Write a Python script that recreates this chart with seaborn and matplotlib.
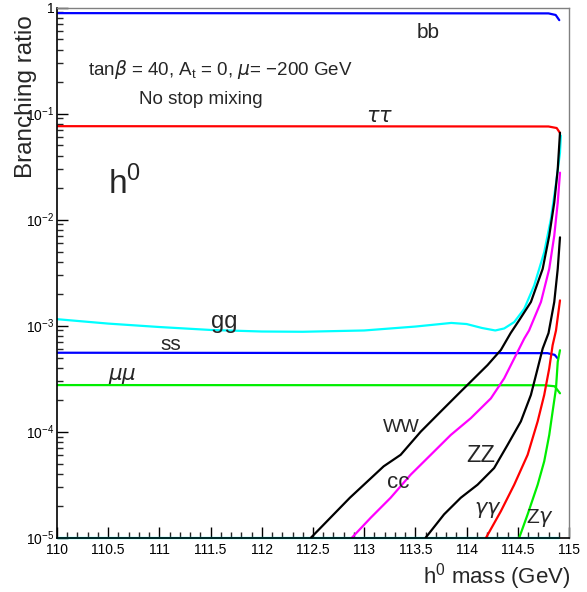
import numpy as np
import pandas as pd
import matplotlib
matplotlib.use("Agg")
import matplotlib.pyplot as plt
import seaborn as sns
from matplotlib.ticker import FixedLocator, MultipleLocator, NullFormatter, LogLocator

# ---------------- data ----------------
m_bb = [110.0, 114.80, 114.87, 114.905]
br_bb = [0.885, 0.88, 0.85, 0.76]

m_tautau = [110.0, 114.80, 114.88, 114.91]
br_tautau = [0.076, 0.0755, 0.073, 0.066]

m_ss = [110.0, 114.79, 114.86, 114.89]
br_ss = [5.55e-4, 5.5e-4, 5.3e-4, 4.9e-4]

m_mumu = [110.0, 114.76, 114.86, 114.912]
br_mumu = [2.75e-4, 2.74e-4, 2.68e-4, 2.3e-4]

m_gg = [110.0, 110.5, 111.0, 111.5, 112.0, 112.4, 113.0, 113.5, 113.85, 114.0,
        114.15, 114.28, 114.367, 114.465, 114.563, 114.66, 114.758, 114.823,
        114.87, 114.912, 114.92]
br_gg = [1.15e-3, 1.045e-3, 9.7e-4, 9.1e-4, 8.8e-4, 8.75e-4, 9.0e-4, 9.8e-4,
         1.06e-3, 1.035e-3, 9.5e-4, 9.0e-4, 9.4e-4, 1.08e-3, 1.44e-3, 2.39e-3,
         4.92e-3, 0.0101, 0.0208, 0.0428, 0.062]

m_WW = [112.48, 112.86, 113.19, 113.356, 113.552, 113.748, 113.943, 114.073,
        114.204, 114.335, 114.43, 114.52, 114.628, 114.743, 114.807, 114.856,
        114.89, 114.912]
br_WW = [1e-5, 2.38e-5, 4.71e-5, 6.05e-5, 1.0e-4, 1.55e-4, 2.39e-4, 3.18e-4,
         4.24e-4, 5.9e-4, 8.5e-4, 1.15e-3, 1.67e-3, 3.43e-3, 7.05e-3, 0.0145,
         0.0298, 0.0659]

m_cc = [112.88, 113.063, 113.258, 113.454, 113.65, 113.845, 114.041, 114.237,
        114.367, 114.465, 114.563, 114.61, 114.726, 114.807, 114.856, 114.89,
        114.912]
br_cc = [1e-5, 1.54e-5, 2.38e-5, 3.93e-5, 6.05e-5, 9.3e-5, 1.34e-4, 2.06e-4,
         3.18e-4, 4.9e-4, 7.55e-4, 9.0e-4, 1.67e-3, 3.43e-3, 7.05e-3, 0.0145,
         0.0277]

m_ZZ = [113.60, 113.78, 113.943, 114.107, 114.269, 114.40, 114.53, 114.628,
        114.694, 114.743, 114.80, 114.856, 114.89, 114.912]
br_ZZ = [1e-5, 1.66e-5, 2.38e-5, 3.16e-5, 4.54e-5, 7.5e-5, 1.25e-4, 2.22e-4,
         3.95e-4, 6.08e-4, 8.5e-4, 1.67e-3, 3.43e-3, 6.8e-3]

m_gamgam = [114.19, 114.335, 114.465, 114.596, 114.694, 114.758, 114.807,
            114.84, 114.873, 114.912]
br_gamgam = [1e-5, 1.78e-5, 3.16e-5, 6.05e-5, 1.25e-4, 2.22e-4, 3.95e-4,
             6.53e-4, 9.0e-4, 1.73e-3]

m_Zgam = [114.514, 114.596, 114.694, 114.758, 114.807, 114.84, 114.873,
          114.89, 114.912]
br_Zgam = [1e-5, 1.66e-5, 3.16e-5, 5.25e-5, 9.3e-5, 1.55e-4, 2.56e-4,
           4.56e-4, 5.86e-4]

m_floor = [110.0, 114.9]
br_floor = [1e-5, 1e-5]

x_ticks = [110, 110.5, 111, 111.5, 112, 112.5, 113, 113.5, 114, 114.5, 115]
x_tick_labels = ["110", "110.5", "111", "111.5", "112", "112.5", "113", "113.5",
                 "114", "114.5", "115"]
y_ticks = [1e-5, 1e-4, 1e-3, 1e-2, 1e-1, 1]
y_tick_labels = [r"10$^{-5}$", r"10$^{-4}$", r"10$^{-3}$", r"10$^{-2}$", r"10$^{-1}$", "1"]

series = [
    ("floor", m_floor, br_floor, "#00ffff"),
    ("bb", m_bb, br_bb, "#0000ff"),
    ("tautau", m_tautau, br_tautau, "#ff0000"),
    ("gg", m_gg, br_gg, "#00ffff"),
    ("ss", m_ss, br_ss, "#0000ff"),
    ("mumu", m_mumu, br_mumu, "#00ee00"),
    ("WW", m_WW, br_WW, "#000000"),
    ("cc", m_cc, br_cc, "#ff00ff"),
    ("ZZ", m_ZZ, br_ZZ, "#000000"),
    ("gamgam", m_gamgam, br_gamgam, "#ff0000"),
    ("Zgam", m_Zgam, br_Zgam, "#00ee00"),
]

frames = [pd.DataFrame({"mass": m, "br": b, "channel": name}) for name, m, b, _ in series]
df = pd.concat(frames, ignore_index=True)

# ---------------- figure ----------------
sns.set_style("white")
plt.rcParams["font.family"] = ["Liberation Sans", "DejaVu Sans"]
plt.rcParams["mathtext.fontset"] = "custom"
plt.rcParams["mathtext.rm"] = "Liberation Sans"
plt.rcParams["mathtext.it"] = "DejaVu Sans:italic"

fig = plt.figure(figsize=(5.87, 5.92), dpi=100)
ax = fig.add_axes([57 / 587, 1 - 537.7 / 592, 512 / 587, 530.2 / 592])

for name, _, _, color in series:
    sub = df[df["channel"] == name]
    sns.lineplot(data=sub, x="mass", y="br", color=color, lw=1.6, ax=ax,
                 estimator=None, sort=False, legend=False, clip_on=(name != "floor"))

ax.set_yscale("log")
ax.set_xlim(110, 115)
ax.set_ylim(1e-5, 1)

ax.xaxis.set_major_locator(FixedLocator(x_ticks))
ax.set_xticklabels(x_tick_labels)
ax.xaxis.set_minor_locator(MultipleLocator(0.1))
ax.yaxis.set_major_locator(FixedLocator(y_ticks))
ax.set_yticklabels(y_tick_labels)
ax.yaxis.set_minor_locator(LogLocator(base=10, subs=np.arange(2, 10)))
ax.yaxis.set_minor_formatter(NullFormatter())

ax.tick_params(axis="both", which="major", direction="in", length=8, width=1,
               labelsize=10, colors="black", left=True, bottom=True)
ax.tick_params(axis="both", which="minor", direction="in", length=4, width=1,
               left=True, bottom=True)
ax.tick_params(axis="x", pad=4)
ax.tick_params(axis="y", pad=2)

for s in ["left", "bottom"]:
    ax.spines[s].set_color("black")
    ax.spines[s].set_linewidth(1.2)
for s in ["top", "right"]:
    ax.spines[s].set_color("#808080")
    ax.spines[s].set_linewidth(1.0)

ax.set_xlabel(r"h$^{0}$ mass (GeV)", fontsize=16, loc="right")
ax.xaxis.set_label_coords(1.002, -0.045)
ax.set_ylabel("Branching ratio", fontsize=17.5, loc="top")
ax.yaxis.set_label_coords(-0.040, 0.986)


def t(px, py, s, size, **kw):
    ax.text((px - 57) / 512, (537.7 - py) / 530.2, s, transform=ax.transAxes,
            fontsize=size, ha=kw.pop("ha", "center"), va="center", **kw)


t(428, 32, "bb", 15)
t(88, 70, r"tan$\beta$ = 40, A$_{\rm t}$ = 0, $\mu$= $-$200 GeV", 13.5, ha="left")
t(201, 99, "No stop mixing", 13.5)
t(380, 117, r"$\tau\tau$", 15)
t(125, 183, r"h$^{0}$", 24)
t(224, 322, "gg", 17)
t(171, 345, "ss", 15)
t(122, 376, r"$\mu\mu$", 15.5)
t(401, 427, "WW", 14)
t(398, 482, "cc", 16)
t(481, 456, "ZZ", 17)
t(488, 510, r"$\gamma\gamma$", 15)
t(540, 518, r"Z$\gamma$", 15)

fig.savefig("out.png", dpi=100)
